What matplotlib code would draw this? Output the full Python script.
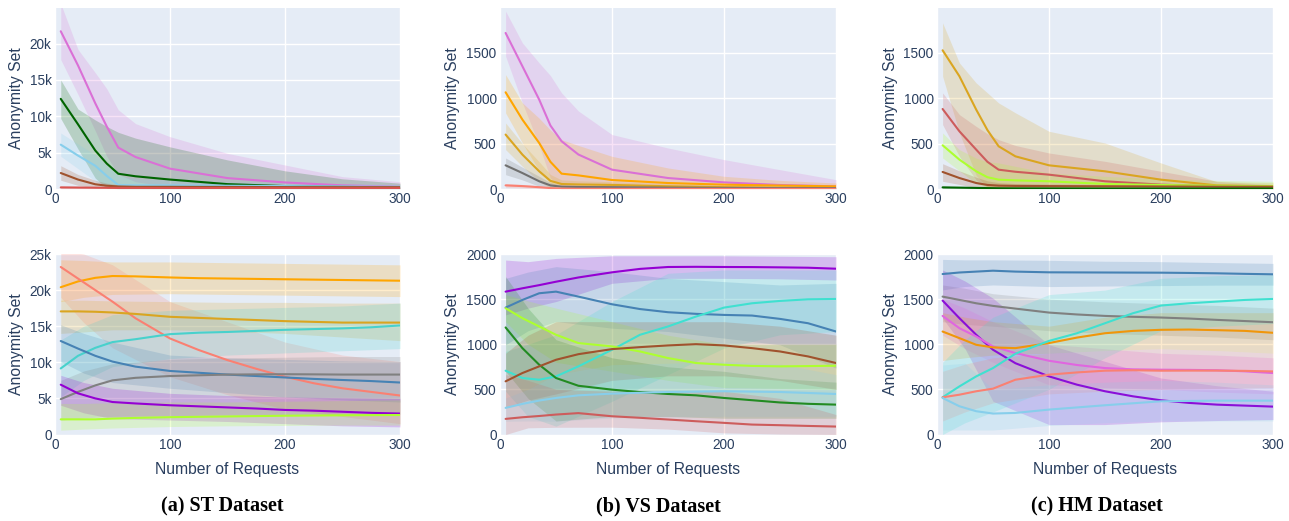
import matplotlib
matplotlib.use("Agg")
import matplotlib.pyplot as plt
from matplotlib.ticker import FuncFormatter, FixedLocator

# ---------------- data ----------------
X_TOP = [5, 20, 35, 45, 55, 70, 100, 150, 200, 250, 300]
X_BOT = [5, 20, 35, 50, 70, 100, 125, 150, 175, 200, 225, 250, 275, 300]
X_BAND = [5, 25, 50, 100, 150, 200, 250, 300]

# Top (a) ST dataset, values in thousands
st_top_colors = ["#DA70D6", "#006400", "#87CEEB", "#A0522D", "#D9534F"]
st_top_mean = [
    [21.7, 17.0, 11.8, 8.6, 5.7, 4.4, 2.8, 1.5, 0.9, 0.5, 0.3],
    [12.4, 8.9, 5.3, 3.5, 2.1, 1.75, 1.3, 0.67, 0.4, 0.3, 0.2],
    [6.1, 4.6, 3.2, 1.8, 0.55, 0.5, 0.5, 0.45, 0.4, 0.35, 0.3],
    [2.2, 1.3, 0.65, 0.45, 0.35, 0.3, 0.3, 0.28, 0.26, 0.25, 0.25],
    [0.22, 0.2, 0.18, 0.17, 0.15, 0.15, 0.14, 0.13, 0.12, 0.12, 0.12],
]
st_top_hi = [
    [25.5, 19.2, 16.0, 13.8, 10.9, 9.0, 7.2, 4.9, 3.3, 1.7, 1.0],
    [15.0, 11.0, 9.5, 8.6, 7.8, 7.0, 5.8, 4.0, 2.5, 1.4, 0.8],
    [7.7, 6.2, 4.7, 3.2, 1.8, 1.4, 1.2, 1.0, 0.8, 0.7, 0.6],
    [3.2, 2.0, 1.2, 0.8, 0.6, 0.55, 0.5, 0.45, 0.42, 0.4, 0.4],
    [0.4, 0.35, 0.3, 0.3, 0.28, 0.27, 0.26, 0.25, 0.24, 0.24, 0.24],
]
st_top_lo = [
    [17.8, 13.0, 8.0, 4.5, 2.0, 1.0, 0.3, 0.15, 0.1, 0.05, 0.05],
    [9.7, 5.5, 1.5, 0.1, 0.05, 0.05, 0.05, 0.05, 0.05, 0.05, 0.05],
    [4.5, 2.8, 1.1, 0.2, 0.05, 0.05, 0.05, 0.05, 0.05, 0.05, 0.05],
    [1.2, 0.5, 0.15, 0.1, 0.1, 0.1, 0.1, 0.1, 0.1, 0.1, 0.1],
    [0.05, 0.05, 0.05, 0.05, 0.05, 0.05, 0.05, 0.05, 0.05, 0.05, 0.05],
]

# Top (b) VS dataset
vs_top_colors = ["#DA70D6", "#FFA500", "#DAA520", "#707070", "#FA8072"]
vs_top_mean = [
    [1720, 1353, 985, 700, 526, 380, 213, 121, 73, 44, 29],
    [1066, 765, 507, 300, 169, 150, 99, 66, 48, 38, 29],
    [600, 379, 195, 90, 55, 50, 45, 30, 20, 15, 10],
    [261, 176, 85, 40, 25, 22, 20, 15, 12, 10, 10],
    [40, 32, 20, 10, 5, 3, 2, 2, 2, 2, 2],
]
vs_top_hi = [
    [1960, 1610, 1390, 1250, 1059, 860, 600, 452, 324, 213, 103],
    [1261, 949, 780, 650, 544, 480, 360, 232, 140, 95, 66],
    [728, 500, 300, 160, 100, 90, 80, 60, 40, 30, 20],
    [342, 240, 140, 70, 45, 40, 35, 30, 25, 20, 20],
    [60, 50, 35, 20, 12, 8, 6, 5, 5, 5, 5],
]
vs_top_lo = [
    [1463, 950, 480, 120, 30, 10, 5, 5, 5, 5, 5],
    [838, 507, 200, 60, 20, 15, 10, 8, 5, 5, 5],
    [434, 250, 80, 10, 5, 5, 5, 5, 5, 5, 5],
    [158, 100, 30, 10, 5, 5, 5, 5, 5, 5, 5],
    [15, 10, 5, 2, 1, 1, 1, 1, 1, 1, 1],
]

# Top (c) HM dataset
hm_top_colors = ["#DAA520", "#CD5C5C", "#ADFF2F", "#A0522D", "#006400"]
hm_top_mean = [
    [1529, 1243, 875, 650, 471, 360, 261, 195, 103, 40, 29],
    [882, 636, 434, 300, 213, 190, 158, 85, 48, 30, 22],
    [482, 324, 195, 130, 103, 95, 85, 55, 44, 35, 29],
    [188, 121, 66, 45, 37, 34, 32, 30, 28, 26, 25],
    [18, 15, 12, 10, 8, 7, 6, 5, 5, 5, 5],
]
hm_top_hi = [
    [1831, 1390, 1169, 1060, 949, 840, 636, 507, 287, 80, 70],
    [1059, 820, 690, 610, 544, 480, 397, 305, 195, 85, 48],
    [618, 434, 340, 300, 287, 250, 176, 140, 110, 95, 85],
    [279, 200, 130, 90, 70, 60, 55, 50, 45, 40, 40],
    [30, 25, 20, 18, 15, 14, 12, 10, 10, 10, 10],
]
hm_top_lo = [
    [1243, 618, 150, 20, 10, 10, 10, 10, 10, 5, 5],
    [710, 360, 100, 20, 10, 10, 10, 10, 5, 5, 5],
    [342, 200, 60, 15, 10, 10, 10, 10, 5, 5, 5],
    [85, 50, 15, 10, 5, 5, 5, 5, 5, 5, 5],
    [5, 5, 4, 3, 2, 2, 2, 2, 2, 2, 2],
]

# Bottom (a) ST dataset, thousands
st_bot_colors = ["#FFA500", "#FA8072", "#DAA520", "#48D1CC", "#4682B4",
                 "#808080", "#9400D3", "#ADFF2F"]
st_bot_mean = [
    [20.4, 21.2, 21.7, 21.95, 21.9, 21.75, 21.65, 21.6, 21.55, 21.5, 21.45, 21.4, 21.35, 21.3],
    [23.2, 21.6, 20.0, 18.4, 16.1, 13.3, 11.7, 10.3, 9.1, 8.0, 7.1, 6.4, 5.9, 5.4],
    [17.05, 17.05, 17.0, 16.9, 16.7, 16.3, 16.15, 16.0, 15.85, 15.7, 15.6, 15.5, 15.5, 15.5],
    [9.15, 10.9, 12.0, 12.8, 13.2, 13.9, 14.1, 14.2, 14.35, 14.5, 14.6, 14.7, 14.85, 15.1],
    [12.95, 11.9, 10.9, 10.1, 9.4, 8.8, 8.55, 8.3, 8.1, 7.9, 7.7, 7.55, 7.4, 7.2],
    [4.9, 5.9, 6.8, 7.5, 7.85, 8.1, 8.2, 8.3, 8.33, 8.35, 8.33, 8.3, 8.3, 8.3],
    [6.9, 5.7, 5.0, 4.5, 4.3, 4.05, 3.9, 3.75, 3.6, 3.4, 3.3, 3.15, 3.0, 2.9],
    [2.1, 2.1, 2.1, 2.2, 2.3, 2.4, 2.45, 2.5, 2.55, 2.6, 2.63, 2.66, 2.68, 2.7],
]
st_bot_hi = [
    [24.2, 24.1, 23.9, 23.9, 23.8, 23.7, 23.6, 23.5],
    [25.5, 25.0, 23.5, 18.4, 15.6, 12.8, 11.0, 10.1],
    [18.6, 18.6, 18.5, 18.4, 18.3, 18.3, 18.2, 18.2],
    [13.1, 15.0, 16.6, 17.2, 17.4, 17.6, 17.8, 18.2],
    [15.2, 14.0, 12.8, 11.0, 10.6, 10.4, 10.2, 10.1],
    [7.5, 8.8, 9.8, 10.4, 10.6, 10.7, 10.8, 10.8],
    [8.2, 7.2, 6.4, 5.7, 5.4, 5.2, 5.1, 5.0],
    [4.3, 4.3, 4.4, 4.5, 4.5, 4.6, 4.7, 4.8],
]
st_bot_lo = [
    [18.4, 19.0, 19.4, 19.5, 19.4, 19.3, 19.2, 19.1],
    [19.0, 15.5, 12.0, 8.0, 5.5, 3.5, 2.5, 1.5],
    [14.0, 14.2, 14.5, 14.5, 14.3, 14.0, 13.5, 13.0],
    [5.2, 7.5, 9.4, 10.5, 11.0, 11.3, 11.6, 11.9],
    [10.1, 8.5, 7.2, 6.4, 5.8, 5.2, 4.8, 4.5],
    [2.0, 2.3, 2.5, 2.6, 2.7, 2.7, 2.8, 2.8],
    [4.05, 3.0, 2.2, 2.0, 1.8, 1.5, 1.2, 1.05],
    [0.6, 0.75, 0.9, 1.1, 1.2, 1.25, 1.3, 1.3],
]

# Bottom (b) VS dataset
vs_bot_colors = ["#9400D3", "#4682B4", "#40E0D0", "#ADFF2F", "#228B22",
                 "#A0522D", "#87CEEB", "#CD5C5C"]
vs_bot_mean = [
    [1583, 1620, 1655, 1693, 1740, 1797, 1835, 1856, 1858, 1856, 1855, 1852, 1848, 1837],
    [1406, 1491, 1565, 1583, 1528, 1443, 1390, 1355, 1337, 1325, 1318, 1281, 1233, 1141],
    [707, 626, 607, 644, 755, 939, 1105, 1197, 1307, 1406, 1454, 1480, 1498, 1502],
    [1399, 1289, 1197, 1105, 1013, 976, 920, 847, 792, 773, 760, 755, 758, 762],
    [1186, 957, 773, 626, 540, 497, 470, 449, 434, 405, 380, 355, 340, 331],
    [589, 681, 755, 828, 890, 946, 968, 987, 1001, 987, 957, 920, 865, 792],
    [295, 339, 376, 405, 434, 453, 462, 471, 475, 479, 475, 471, 460, 449],
    [173, 191, 205, 221, 237, 202, 185, 166, 147, 129, 110, 103, 95, 88],
]
vs_bot_hi = [
    [1933, 1915, 1951, 1980, 1980, 1980, 1975, 1970],
    [1730, 1800, 1860, 1804, 1730, 1694, 1657, 1675],
    [920, 1000, 1105, 1473, 1786, 1823, 1823, 1823],
    [1550, 1480, 1400, 1250, 1100, 1000, 1000, 1000],
    [1750, 1400, 1050, 850, 750, 700, 620, 580],
    [900, 1100, 1250, 1250, 1250, 1250, 1200, 1100],
    [405, 500, 663, 773, 790, 810, 780, 663],
    [663, 600, 500, 479, 470, 480, 400, 221],
]
vs_bot_lo = [
    [1325, 1400, 1473, 1675, 1730, 1730, 1725, 1712],
    [994, 1150, 1252, 1178, 1141, 1068, 994, 736],
    [479, 200, 92, 368, 663, 957, 1105, 1141],
    [1250, 1000, 800, 700, 600, 520, 510, 500],
    [700, 400, 150, 200, 200, 180, 180, 180],
    [300, 380, 450, 600, 650, 650, 600, 500],
    [147, 150, 147, 184, 195, 202, 202, 202],
    [0, 74, 80, 81, 60, 18, 5, 0],
]

# Bottom (c) HM dataset
hm_bot_colors = ["#4682B4", "#808080", "#8A0FD8", "#E066E0", "#F0960A",
                 "#40E0D0", "#FA8072", "#87CEEB"]
hm_bot_mean = [
    [1778, 1795, 1805, 1815, 1805, 1797, 1796, 1795, 1794, 1793, 1790, 1786, 1780, 1775],
    [1528, 1491, 1454, 1425, 1395, 1351, 1330, 1314, 1304, 1296, 1285, 1270, 1257, 1244],
    [1484, 1289, 1105, 939, 790, 644, 552, 479, 423, 379, 350, 331, 320, 309],
    [1314, 1178, 1086, 976, 902, 817, 770, 736, 722, 718, 716, 712, 700, 681],
    [1141, 1068, 994, 965, 957, 1013, 1074, 1122, 1148, 1160, 1163, 1156, 1148, 1127],
    [412, 533, 644, 736, 895, 1037, 1122, 1233, 1344, 1429, 1454, 1473, 1491, 1502],
    [412, 441, 479, 508, 607, 663, 688, 707, 712, 707, 708, 708, 705, 699],
    [405, 313, 258, 232, 239, 276, 300, 324, 346, 368, 372, 375, 375, 375],
]
hm_bot_hi = [
    [1940, 1935, 1935, 1930, 1920, 1915, 1905, 1896],
    [1657, 1620, 1560, 1500, 1470, 1450, 1430, 1400],
    [1823, 1700, 1510, 994, 810, 626, 540, 479],
    [1500, 1400, 1250, 1000, 950, 900, 880, 850],
    [1350, 1300, 1250, 1200, 1300, 1350, 1350, 1350],
    [800, 1050, 1300, 1550, 1600, 1730, 1760, 1770],
    [700, 780, 850, 900, 930, 950, 930, 900],
    [770, 790, 500, 550, 580, 600, 580, 550],
]
hm_bot_lo = [
    [1602, 1640, 1657, 1639, 1645, 1650, 1655, 1655],
    [1250, 1220, 1200, 1150, 1120, 1100, 1080, 1050],
    [1289, 950, 368, 110, 110, 140, 155, 166],
    [1100, 950, 800, 550, 520, 500, 470, 450],
    [820, 850, 880, 900, 930, 950, 930, 900],
    [0, 130, 250, 500, 850, 1150, 1200, 1230],
    [150, 250, 350, 450, 480, 500, 510, 520],
    [50, 50, 50, 100, 130, 150, 150, 150],
]

X_TICKS = [0, 100, 200, 300]
Y_TICKS_ST = [0, 5000, 10000, 15000, 20000, 25000]
Y_TICKS_VS = [0, 500, 1000, 1500, 2000]
CAPTIONS = ["(a) ST Dataset", "(b) VS Dataset", "(c) HM Dataset"]
Y_TITLE = "Anonymity Set"
X_TITLE = "Number of Requests"

# ---------------- drawing ----------------
W, H = 1289, 521
fig = plt.figure(figsize=(W / 100, H / 100), dpi=100)
fig.patch.set_facecolor("white")

BG = "#E5ECF6"
TXT = "#2a3f5f"
FONT = "Liberation Sans"


def box(x0, y0, x1, y1):
    return [x0 / W, 1 - y1 / H, (x1 - x0) / W, (y1 - y0) / H]


def kfmt(v, pos):
    if v == 0:
        return "0"
    return f"{int(round(v / 1000))}k"


def panel(rect, xs_line, xs_band, means, his, los, colors, scale, ymax,
          yticks, kticks, xlabel):
    ax = fig.add_axes(rect)
    ax.set_facecolor(BG)
    for s in ax.spines.values():
        s.set_visible(False)
    for m, hi, lo, c in zip(means, his, los, colors):
        ax.fill_between(xs_band, [v * scale for v in lo], [v * scale for v in hi],
                        color=c, alpha=0.2, linewidth=0, zorder=1)
    for m, c in zip(means, colors):
        ax.plot(xs_line, [v * scale for v in m], color=c, lw=1.5, zorder=3,
                solid_capstyle="round", solid_joinstyle="round")
    ax.set_xlim(0, 300)
    ax.set_ylim(0, ymax)
    ax.xaxis.set_major_locator(FixedLocator(X_TICKS))
    ax.yaxis.set_major_locator(FixedLocator(yticks))
    if kticks:
        ax.yaxis.set_major_formatter(FuncFormatter(kfmt))
    ax.grid(True, color="white", lw=1.0, zorder=0)
    ax.set_axisbelow(True)
    ax.tick_params(length=0, pad=2.5, labelsize=9.8, labelcolor=TXT)
    for lab in ax.get_xticklabels() + ax.get_yticklabels():
        lab.set_fontfamily(FONT)
    if xlabel:
        ax.set_xlabel(X_TITLE, fontsize=11.3, color=TXT, family=FONT, labelpad=7)
    return ax


cols = [(55, 400), (500, 836), (937, 1273)]
ytitle_xs = [17, 453, 890]
top_y = (8, 189)
bot_y = (254, 434.5)

top_sets = [
    (X_TOP, X_TOP, st_top_mean, st_top_hi, st_top_lo, st_top_colors, 1000, 24900, Y_TICKS_ST[:5], True),
    (X_TOP, X_TOP, vs_top_mean, vs_top_hi, vs_top_lo, vs_top_colors, 1, 1995, Y_TICKS_VS[:4], False),
    (X_TOP, X_TOP, hm_top_mean, hm_top_hi, hm_top_lo, hm_top_colors, 1, 1995, Y_TICKS_VS[:4], False),
]
bot_sets = [
    (X_BOT, X_BAND, st_bot_mean, st_bot_hi, st_bot_lo, st_bot_colors, 1000, 25000, Y_TICKS_ST, True),
    (X_BOT, X_BAND, vs_bot_mean, vs_bot_hi, vs_bot_lo, vs_bot_colors, 1, 2000, Y_TICKS_VS, False),
    (X_BOT, X_BAND, hm_bot_mean, hm_bot_hi, hm_bot_lo, hm_bot_colors, 1, 2000, Y_TICKS_VS, False),
]

for i in range(3):
    x0, x1 = cols[i]
    for (y0, y1), sets, xl in ((top_y, top_sets, False), (bot_y, bot_sets, True)):
        xs_l, xs_b, mn, hi, lo, cl, sc, ymax, yt, kt = sets[i]
        panel(box(x0, y0, x1, y1), xs_l, xs_b, mn, hi, lo, cl, sc, ymax, yt, kt, xl)
        fig.text(ytitle_xs[i] / W, 1 - ((y0 + y1) / 2) / H, Y_TITLE, rotation=90,
                 ha="center", va="center", fontsize=11.3, color=TXT, family=FONT)
    cx = [222, 658, 1097][i]
    fig.text(cx / W, 1 - 506 / H, CAPTIONS[i], ha="center", va="center",
             fontsize=14.5, fontweight="bold", family="Liberation Serif", color="black")

fig.savefig("out.png", dpi=100)
